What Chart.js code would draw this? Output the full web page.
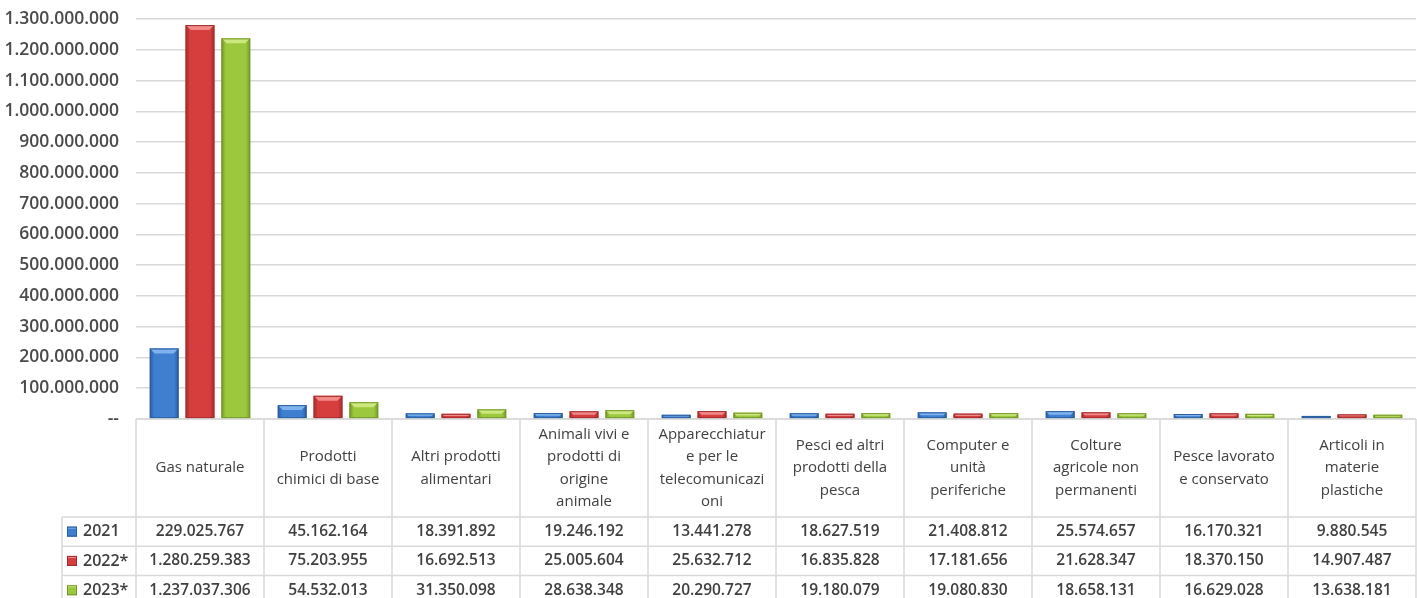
<!DOCTYPE html>
<html>
<head>
<meta charset="utf-8">
<script src="https://cdn.jsdelivr.net/npm/chart.js@4/dist/chart.umd.min.js"></script>
<style>
  html, body { margin: 0; padding: 0; background: #fff; }
  canvas { display: block; }
</style>
</head>
<body>
<canvas id="chart" width="1417" height="598"></canvas>
<script>
// Categorie (già spezzate come nella tabella dati di Excel)
const categories = [
    ['Gas naturale'],
    ['Prodotti', 'chimici di base'],
    ['Altri prodotti', 'alimentari'],
    ['Animali vivi e', 'prodotti di', 'origine', 'animale'],
    ['Apparecchiatur', 'e per le', 'telecomunicazi', 'oni'],
    ['Pesci ed altri', 'prodotti della', 'pesca'],
    ['Computer e', 'unità', 'periferiche'],
    ['Colture', 'agricole non', 'permanenti'],
    ['Pesce lavorato', 'e conservato'],
    ['Articoli in', 'materie', 'plastiche']
];

const seriesNames = ['2021', '2022*', '2023*'];

const values2021 = [229025767, 45162164, 18391892, 19246192, 13441278, 18627519, 21408812, 25574657, 16170321, 9880545];
const values2022 = [1280259383, 75203955, 16692513, 25005604, 25632712, 16835828, 17181656, 21628347, 18370150, 14907487];
const values2023 = [1237037306, 54532013, 31350098, 28638348, 20290727, 19180079, 19080830, 18658131, 16629028, 13638181];

const yMax = 1300000000;
const yStep = 100000000;

// colori: base, bordo scuro, riflesso
const palette = [
    { base: '#3f7fcf', dark: '#2b5c9e', light: '#7fb3ee' },
    { base: '#d63e3e', dark: '#a22c2c', light: '#f28a8a' },
    { base: '#9cc83e', dark: '#74962b', light: '#cbe87e' }
];

const FONT = '"Open Sans", Lato, sans-serif';
const TEXT = '#404040';
const LINE = '#d9d9d9';

function fmt(v) {
    return String(v).replace(/\B(?=(\d{3})+(?!\d))/g, '.');
}

// effetto "smussato" delle barre come in Excel
const bevelPlugin = {
    id: 'bevel',
    afterDatasetsDraw(chart) {
        const ctx = chart.ctx;
        chart.data.datasets.forEach((ds, di) => {
            const col = palette[di];
            chart.getDatasetMeta(di).data.forEach(bar => {
                const l = bar.x - bar.width / 2, r = bar.x + bar.width / 2;
                const t = bar.y, b = bar.base;
                const h = b - t;
                if (h <= 0) return;
                ctx.save();
                const g = ctx.createLinearGradient(l, 0, r, 0);
                g.addColorStop(0, col.dark);
                g.addColorStop(0.15, col.base);
                g.addColorStop(0.85, col.base);
                g.addColorStop(1, col.dark);
                ctx.fillStyle = g;
                ctx.fillRect(l, t, r - l, h);
                // riflesso in alto
                const bv = Math.min(5, h / 2);
                ctx.fillStyle = col.light;
                ctx.beginPath();
                ctx.moveTo(l, t);
                ctx.lineTo(r, t);
                ctx.lineTo(r - bv, t + bv);
                ctx.lineTo(l + bv, t + bv);
                ctx.closePath();
                ctx.fill();
                ctx.strokeStyle = col.dark;
                ctx.lineWidth = 1;
                ctx.strokeRect(l + 0.5, t + 0.5, r - l - 1, h - 1);
                ctx.restore();
            });
        });
    }
};

// tabella dati sotto al grafico
const tablePlugin = {
    id: 'dataTable',
    afterDraw(chart) {
        const ctx = chart.ctx;
        const area = chart.chartArea;
        const x = chart.scales.x;
        const n = categories.length;
        const w = area.width / n;
        const top = area.bottom;
        const headH = 98, rowH = 29.3;
        const legLeft = 62;
        const bottom = chart.height;
        const series = [values2021, values2022, values2023];

        ctx.save();
        ctx.strokeStyle = LINE;
        ctx.lineWidth = 1.5;
        ctx.beginPath();
        // orizzontali
        ctx.moveTo(area.left, top); ctx.lineTo(area.right, top);
        for (let r = 0; r < 3; r++) {
            const yy = top + headH + r * rowH;
            ctx.moveTo(legLeft, yy); ctx.lineTo(area.right, yy);
        }
        // verticali
        for (let i = 0; i <= n; i++) {
            const xx = area.left + i * w;
            ctx.moveTo(xx, top); ctx.lineTo(xx, bottom);
        }
        ctx.moveTo(legLeft, top + headH); ctx.lineTo(legLeft, bottom);
        ctx.stroke();

        ctx.fillStyle = TEXT;
        ctx.textAlign = 'center';
        ctx.textBaseline = 'middle';

        // intestazioni
        ctx.font = '500 15px ' + FONT;
        const lh = 22.5;
        const mid = top + headH / 2;
        categories.forEach((lines, i) => {
            const cx = x.getPixelForValue(i);
            const y0 = mid - (lines.length - 1) * lh / 2;
            lines.forEach((s, k) => ctx.fillText(s, cx, y0 + k * lh));
        });

        // valori
        ctx.font = '600 15.5px ' + FONT;
        series.forEach((vals, r) => {
            const cy = top + headH + r * rowH + rowH / 2;
            vals.forEach((v, i) => ctx.fillText(fmt(v), x.getPixelForValue(i), cy));
        });

        // legenda
        series.forEach((vals, r) => {
            const cy = top + headH + r * rowH + rowH / 2;
            const col = palette[r];
            ctx.fillStyle = col.base;
            ctx.fillRect(67, cy - 5, 10, 10);
            ctx.fillStyle = col.light;
            ctx.fillRect(67, cy - 5, 10, 2);
            ctx.strokeStyle = col.dark;
            ctx.lineWidth = 1;
            ctx.strokeRect(67.5, cy - 4.5, 9, 9);
            ctx.fillStyle = TEXT;
            ctx.textAlign = 'left';
            ctx.font = '600 16px ' + FONT;
            ctx.fillText(seriesNames[r], 83, cy);
        });
        ctx.restore();
    }
};

const datasets = [values2021, values2022, values2023].map((vals, i) => ({
    label: seriesNames[i],
    data: vals,
    backgroundColor: palette[i].base,
    borderWidth: 0,
    categoryPercentage: 0.84,
    barPercentage: 0.8
}));

new Chart(document.getElementById('chart'), {
    type: 'bar',
    data: { labels: categories, datasets: datasets },
    options: {
        responsive: false,
        animation: false,
        layout: { padding: { top: 19, right: 1, bottom: 179, left: 0 } },
        plugins: { legend: { display: false }, tooltip: { enabled: false } },
        scales: {
            x: { display: false },
            y: {
                min: 0,
                max: yMax,
                border: { display: false },
                grid: { color: LINE, lineWidth: 1.5, drawTicks: false },
                afterFit(scale) {
                    scale.width = 136;
                    scale.paddingTop = 0;
                    scale.paddingBottom = 0;
                },
                ticks: {
                    stepSize: yStep,
                    padding: 17,
                    color: '#4a4a4a',
                    font: { family: FONT, size: 17.5, weight: '600' },
                    callback: v => v === 0 ? '--' : fmt(v)
                }
            }
        }
    },
    plugins: [bevelPlugin, tablePlugin]
});
</script>
</body>
</html>
